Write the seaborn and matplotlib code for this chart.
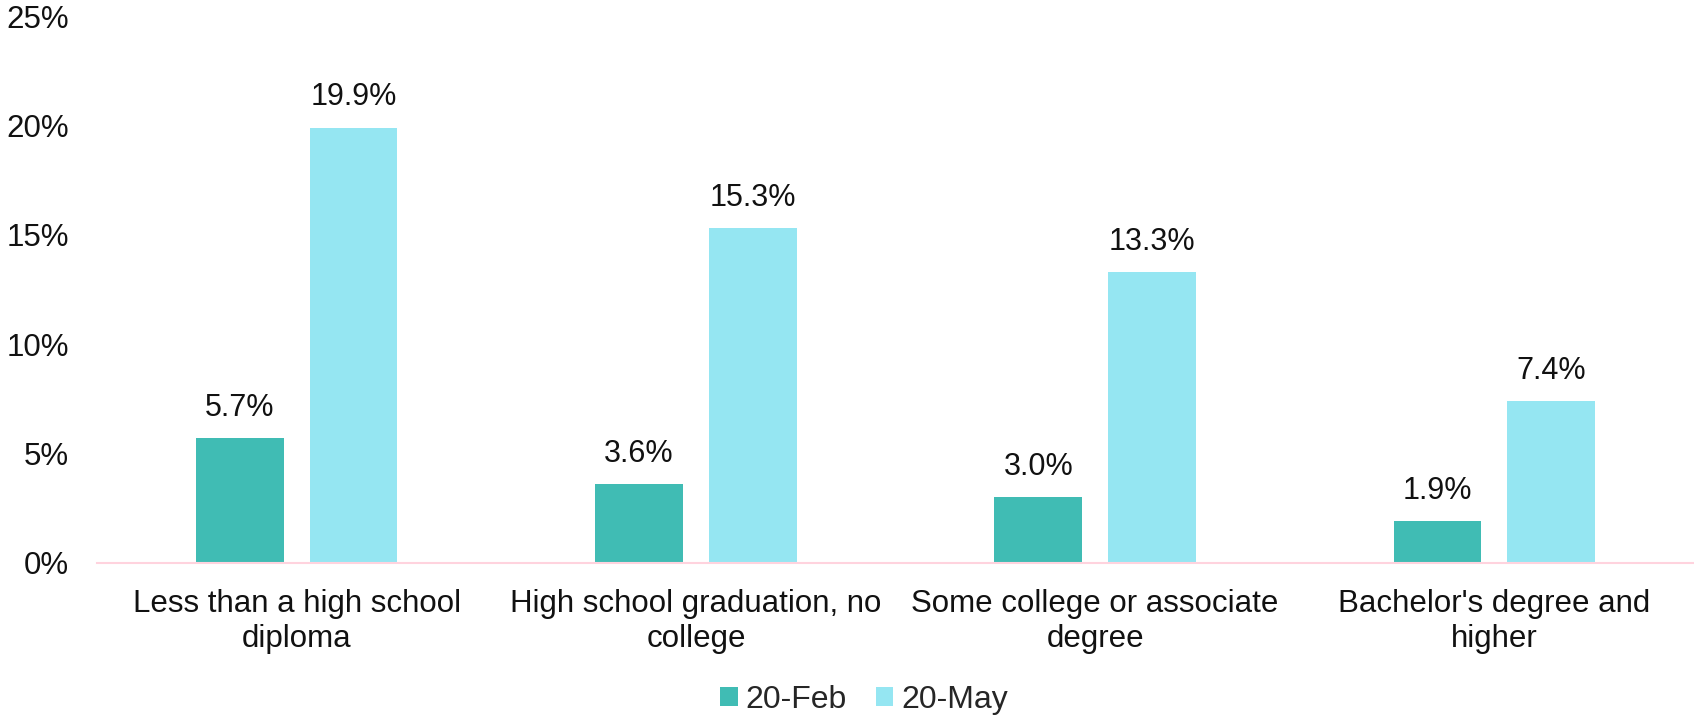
import matplotlib
matplotlib.use("Agg")
import matplotlib.pyplot as plt
import seaborn as sns
import pandas as pd
from matplotlib.ticker import FuncFormatter
from matplotlib.patches import Patch

categories = [
    "Less than a high school\ndiploma",
    "High school graduation, no\ncollege",
    "Some college or associate\ndegree",
    "Bachelor's degree and\nhigher",
]
series_names = ["20-Feb", "20-May"]
feb_values = [5.7, 3.6, 3.0, 1.9]
may_values = [19.9, 15.3, 13.3, 7.4]
y_ticks = [0, 5, 10, 15, 20, 25]

colors = ["#40BCB4", "#95E6F2"]

df = pd.DataFrame({
    "category": categories * 2,
    "period": [series_names[0]] * 4 + [series_names[1]] * 4,
    "value": feb_values + may_values,
})

sns.set_theme(style="white")
plt.rcParams["font.family"] = ["Liberation Sans", "DejaVu Sans"]

fig = plt.figure(figsize=(16.94, 7.15), dpi=100)
ax = fig.add_axes([97 / 1694, 152 / 715, 1 - 97 / 1694, (563 - 16) / 715])

sns.barplot(data=df, x="category", y="value", hue="period",
            palette=colors, width=0.57, gap=0.23, ax=ax,
            legend=False, saturation=1, edgecolor="none")

for cont in ax.containers:
    ax.bar_label(cont, fmt="%.1f%%", padding=11, fontsize=22, color="#111111")

ax.set_ylim(0, 25)
ax.set_xlim(-0.5, 3.5)
ax.set_yticks(y_ticks)
ax.yaxis.set_major_formatter(FuncFormatter(lambda v, p: f"{v:.0f}%"))
ax.set_xlabel("")
ax.set_ylabel("")
ax.tick_params(axis="y", labelsize=22.5, length=0, pad=20, colors="#111111")
ax.tick_params(axis="x", labelsize=22.5, length=0, pad=19, colors="#111111")
for lbl in ax.get_xticklabels():
    lbl.set_linespacing(1.22)

for side in ["top", "right", "left"]:
    ax.spines[side].set_visible(False)
ax.spines["bottom"].set_color("#FFD3DE")
ax.spines["bottom"].set_linewidth(1.5)
ax.grid(False)

handles = [Patch(facecolor=c, edgecolor="none") for c in colors]
fig.legend(handles, series_names, loc="center", bbox_to_anchor=(864 / 1694, 15 / 715),
           ncol=2, frameon=False, fontsize=23, handlelength=0.55, handleheight=0.55,
           handletextpad=0.25, columnspacing=0.9, borderaxespad=0, borderpad=0)

fig.savefig("out.png", dpi=100)
